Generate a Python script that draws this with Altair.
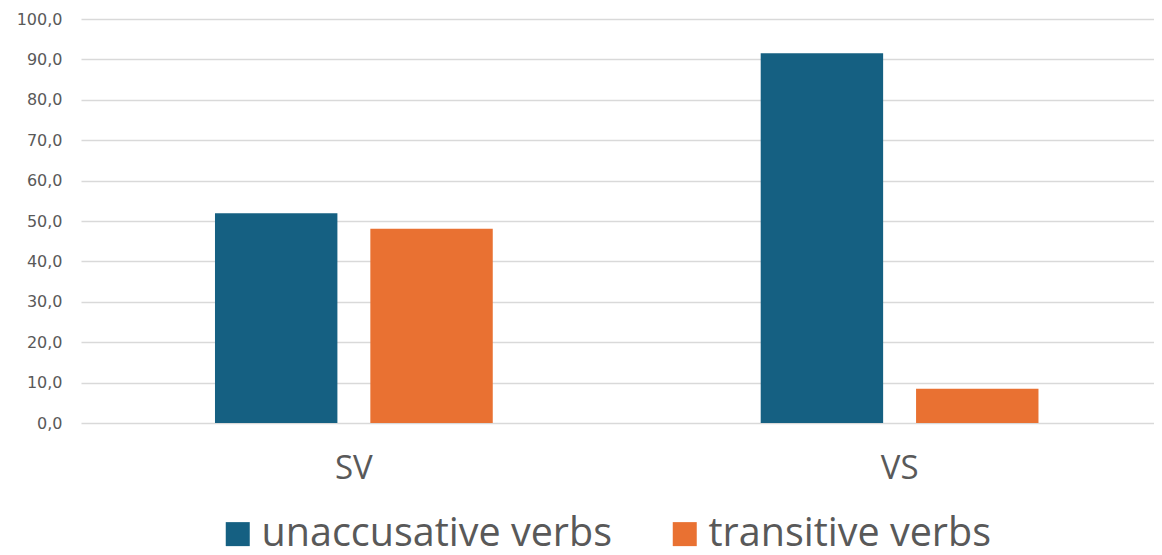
import altair as alt
import pandas as pd

categories = ["SV", "VS"]
series = ["unaccusative verbs", "transitive verbs"]
unaccusative = [51.9, 91.5]
transitive = [48.1, 8.5]
colors = ["#156082", "#E97132"]

rows = []
for i, c in enumerate(categories):
    rows.append({"order": c, "type": series[0], "value": unaccusative[i]})
    rows.append({"order": c, "type": series[1], "value": transitive[i]})
df = pd.DataFrame(rows)

FONT = "Open Sans"
GRAY = "#595959"

chart = alt.Chart(df).mark_bar().encode(
    x=alt.X("order:N", sort=categories, title=None,
            scale=alt.Scale(paddingInner=0.491, paddingOuter=0.2286, align=0.537),
            axis=alt.Axis(labelAngle=0, labelFontSize=33, labelColor=GRAY, labelFont=FONT,
                          ticks=False, domain=False, labelPadding=29, grid=False)),
    xOffset=alt.XOffset("type:N", sort=series,
                        scale=alt.Scale(paddingInner=0.212, paddingOuter=0)),
    y=alt.Y("value:Q", title=None,
            scale=alt.Scale(domain=[0, 100], nice=False),
            axis=alt.Axis(values=list(range(0, 101, 10)),
                          labelExpr="replace(format(datum.value, '.1f'), '.', ',')",
                          labelFontSize=16, labelColor=GRAY, labelFont="DejaVu Sans",
                          ticks=False, tickSize=0, domain=False, labelPadding=19,
                          gridColor="#D9D9D9", gridWidth=1.3)),
    color=alt.Color("type:N", sort=series,
                    scale=alt.Scale(domain=series, range=colors),
                    legend=alt.Legend(title=None, orient="none", direction="horizontal",
                                      legendX=137, legendY=495,
                                      symbolType="square", symbolSize=576,
                                      symbolStrokeWidth=0, symbolOpacity=1,
                                      labelFontSize=39.5, labelFont=FONT, labelColor=GRAY,
                                      labelOffset=4, columnPadding=52, padding=0,
                                      labelLimit=1000)),
).properties(
    width=1073, height=404,
    autosize=alt.AutoSizeParams(type="none"),
    padding={"left": 73, "top": 11, "right": 0, "bottom": 124},
).configure_view(stroke=None)

chart.save("out.html", embed_options={"renderer": "svg", "actions": False})
